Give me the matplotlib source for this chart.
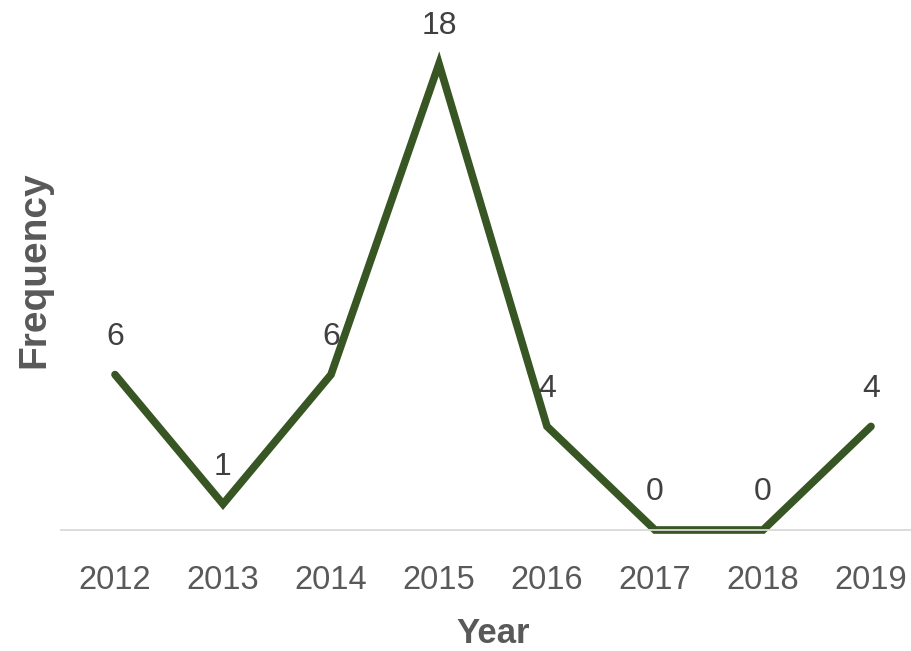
import matplotlib.pyplot as plt

years = ["2012", "2013", "2014", "2015", "2016", "2017", "2018", "2019"]
freq = [6, 1, 6, 18, 4, 0, 0, 4]

plt.rcParams['font.family'] = ['Liberation Sans', 'DejaVu Sans']

fig = plt.figure(figsize=(9.11, 6.51), dpi=100)
ax = fig.add_axes([61 / 911, 121 / 651, 864 / 911, 518 / 651])

x = list(range(len(years)))
ax.plot(x, freq, color='#375623', lw=5.5, solid_joinstyle='miter', solid_capstyle='round',
        clip_on=False)

for xi, v in zip(x, freq):
    ax.annotate(str(v), (xi, v), xytext=(0, 27), textcoords='offset points',
                ha='center', va='center', fontsize=23, color='#404040')

ax.set_xlim(-0.5, 7.5)
ax.set_ylim(0, 20)
ax.set_xticks(x, years)
ax.set_yticks([])
ax.tick_params(axis='x', length=0, pad=25, labelsize=23.5, labelcolor='#595959')

for s in ['top', 'right', 'left']:
    ax.spines[s].set_visible(False)
ax.spines['bottom'].set_color('#d9d9d9')
ax.spines['bottom'].set_linewidth(1.3)

ax.set_xlabel('Year', fontsize=25, fontweight='bold', color='#595959', labelpad=15)
fig.text(34 / 911, 1 - 270 / 651, 'Frequency', rotation=90, fontsize=28, fontweight='bold',
         color='#595959', ha='center', va='center')

fig.savefig('out.png', dpi=100)
